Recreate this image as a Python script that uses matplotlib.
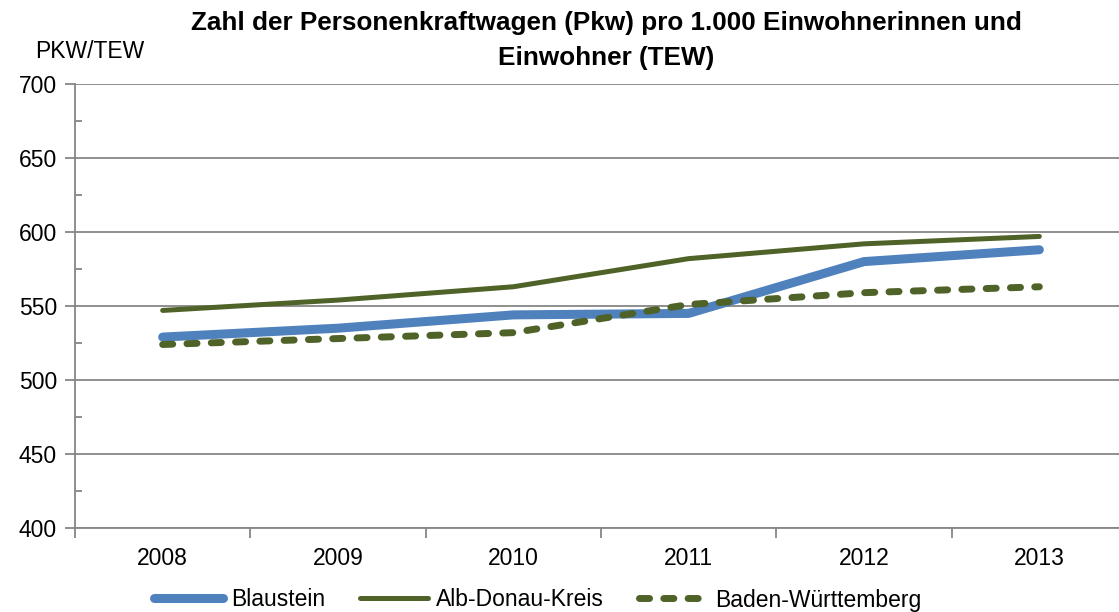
import matplotlib.pyplot as plt
from matplotlib.ticker import MultipleLocator, FixedLocator

plt.rcParams['font.family'] = ['Liberation Sans', 'DejaVu Sans']

# values
years = ['2008', '2009', '2010', '2011', '2012', '2013']
blaustein = [529, 535, 544, 545, 580, 588]
alb_donau = [547, 554, 563, 582, 592, 597]
baden_wue = [524, 528, 532, 551, 559, 563]

blue = '#4F81BD'
green = '#4F6228'
grey = '#868686'
fs = 16.5

fig = plt.figure(figsize=(11.19, 6.12), dpi=100)
ax = fig.add_axes([75 / 1119, 1 - 528 / 612, 1052 / 1119, 444 / 612])

x = list(range(len(years)))
ax.plot(x, blaustein, color=blue, lw=6.5, solid_capstyle='round', label='Blaustein', zorder=3)
ax.plot(x, alb_donau, color=green, lw=3.6, solid_capstyle='round', label='Alb-Donau-Kreis', zorder=4)
ax.plot(x, baden_wue, color=green, lw=5, dashes=(1.45, 2.05), dash_capstyle='round',
        label='Baden-Württemberg', zorder=5)

ax.set_xlim(-0.5, 5.5)
ax.set_ylim(400, 700)
ax.set_xticks(x)
ax.set_xticklabels(years)
ax.xaxis.set_minor_locator(FixedLocator([i - 0.5 for i in range(len(years) + 1)]))
ax.tick_params(axis='x', which='major', length=0, pad=14, labelsize=fs)
ax.tick_params(axis='x', which='minor', length=7, color=grey, width=1.3, direction='out')

ax.yaxis.set_major_locator(MultipleLocator(50))
ax.yaxis.set_minor_locator(MultipleLocator(25))
ax.tick_params(axis='y', which='major', length=7, color=grey, width=1.3, direction='out',
               pad=6, labelsize=fs)
ax.tick_params(axis='y', which='minor', length=5, color=grey, width=1.3, direction='in')

ax.grid(axis='y', which='major', color=grey, lw=1.3)
ax.set_axisbelow(True)
for s in ['top', 'right']:
    ax.spines[s].set_visible(False)
for s in ['left', 'bottom']:
    ax.spines[s].set_color(grey)
    ax.spines[s].set_linewidth(1.3)

fig.text(35 / 1119, 1 - 52 / 612, 'PKW/TEW', fontsize=fs, va='center', ha='left')
fig.text(606 / 1119, 1 - 23 / 612, 'Zahl der Personenkraftwagen (Pkw) pro 1.000 Einwohnerinnen und',
         fontsize=18.8, fontweight='bold', ha='center', va='center')
fig.text(606 / 1119, 1 - 58 / 612, 'Einwohner (TEW)',
         fontsize=18.8, fontweight='bold', ha='center', va='center')

fig.legend(loc='center', bbox_to_anchor=(538 / 1119, 1 - 600 / 612), ncol=3, frameon=False,
           fontsize=fs, handlelength=3.0, handletextpad=0.35, columnspacing=1.5)

fig.savefig('out.png', dpi=100)
